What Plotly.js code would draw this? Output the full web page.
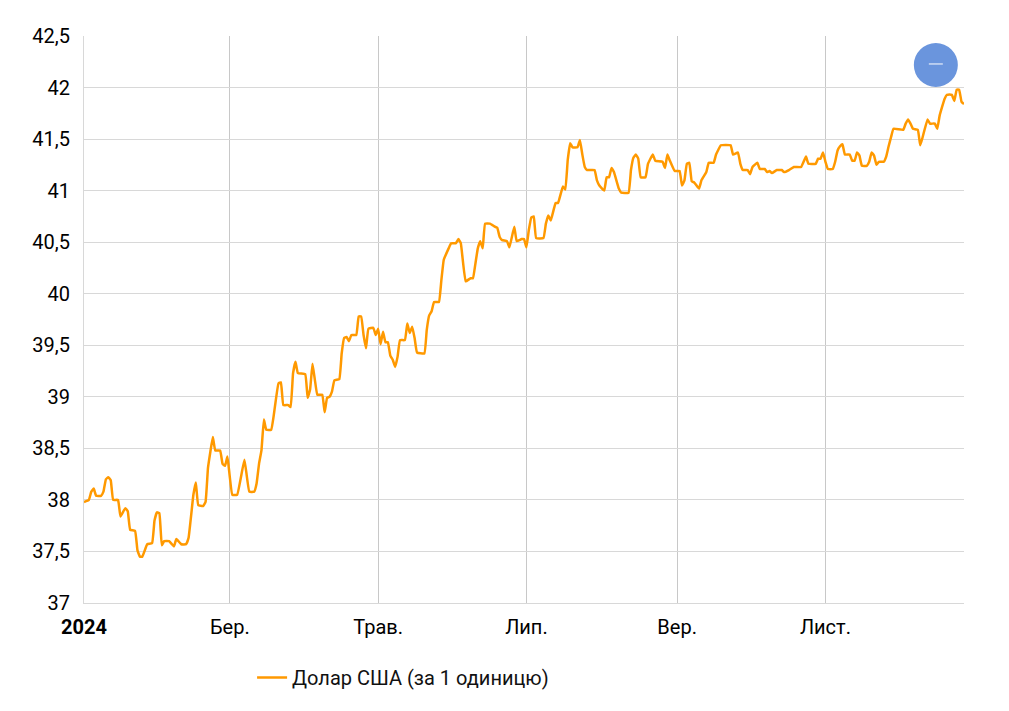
<!DOCTYPE html>
<html>
<head>
<meta charset="utf-8">
<script src="https://cdn.plot.ly/plotly-3.0.1.min.js"></script>
<style>
  html, body { margin: 0; padding: 0; background: #fff; }
  #graph_panel { width: 1009px; height: 711px; }
</style>
</head>
<body>
<div id="graph_panel"></div>
<script>
// days counted from 1 Jan 2024
var days = [0,2,3,4,5,7,8,9,10,11,12,14,15,17,18,19,21,22,23,24,26,28,29,30,31,32,33,35,37,38,40,42,43,45,46,47,49,50,51,52,53,54,56,57,58,59,
  61,63,66,68,70,71,72,73,74,75,77,78,80,81,82,84,85,86,87,88,91,92,93,94,95,96,98,99,100,101,102,103,105,106,107,108,109,110,112,113,114,115,116,117,119,120,
  121,122,123,124,125,126,127,128,129,130,132,133,134,135,136,137,140,141,142,143,144,146,147,148,150,151,153,154,155,157,159,160,161,162,163,164,165,167,169,170,171,172,174,175,177,178,180,
  181,182,183,184,185,186,189,190,191,192,194,195,197,198,199,200,201,203,204,205,206,207,210,211,212,214,215,216,217,218,220,221,224,225,226,227,228,229,231,232,234,235,238,239,240,241,
  243,245,246,247,248,249,250,251,253,254,256,257,259,260,262,266,267,269,270,271,273,274,275,277,278,280,281,282,283,285,287,288,290,292,295,297,298,301,302,303,
  304,305,306,308,309,310,311,312,313,315,316,317,318,319,320,322,323,324,325,326,327,329,330,331,332,333,337,338,339,340,341,343,344,345,347,348,350,351,352,354,355,357,358,359,360,361,362];
var usd = [37.98,38,38.08,38.11,38.04,38.04,38.08,38.2,38.22,38.19,38,38,37.84,37.92,37.89,37.71,37.7,37.51,37.45,37.45,37.57,37.58,37.8,37.88,37.87,37.56,37.6,37.6,37.55,37.62,37.57,37.57,37.63,38.05,38.17,37.95,37.94,37.98,38.31,38.47,38.61,38.48,38.48,38.35,38.33,38.42,
  38.05,38.05,38.39,38.08,38.08,38.16,38.35,38.48,38.78,38.68,38.68,38.81,39.13,39.14,38.92,38.92,38.9,39.23,39.34,39.23,39.22,38.99,39.07,39.32,39.16,39.02,39.02,38.85,38.99,39,39.05,39.16,39.17,39.42,39.57,39.58,39.54,39.6,39.6,39.78,39.78,39.6,39.47,39.66,39.67,39.6,
  39.66,39.51,39.63,39.53,39.53,39.4,39.36,39.29,39.39,39.55,39.55,39.71,39.62,39.68,39.57,39.43,39.42,39.65,39.79,39.83,39.92,39.92,40.13,40.33,40.44,40.49,40.49,40.53,40.49,40.12,40.15,40.15,40.29,40.44,40.51,40.44,40.68,40.68,40.65,40.64,40.55,40.52,40.51,40.45,40.65,40.51,40.53,
  40.53,40.45,40.62,40.74,40.75,40.54,40.54,40.68,40.76,40.71,40.88,40.88,41.04,41.01,41.3,41.46,41.42,41.42,41.49,41.35,41.23,41.2,41.2,41.1,41.05,41,41.13,41.13,41.22,41.18,41.02,40.98,40.98,41.2,41.32,41.35,41.31,41.13,41.13,41.26,41.35,41.29,41.28,41.22,41.35,41.29,
  41.19,41.19,41.05,41.1,41.26,41.27,41.09,41.08,41.02,41.1,41.18,41.27,41.27,41.35,41.44,41.44,41.35,41.37,41.26,41.2,41.2,41.16,41.23,41.27,41.21,41.21,41.18,41.19,41.17,41.2,41.2,41.18,41.2,41.23,41.23,41.33,41.26,41.26,41.31,41.31,
  41.37,41.28,41.21,41.21,41.28,41.39,41.43,41.45,41.35,41.35,41.29,41.29,41.37,41.34,41.24,41.24,41.28,41.37,41.34,41.25,41.28,41.28,41.33,41.43,41.52,41.6,41.59,41.65,41.69,41.65,41.6,41.59,41.44,41.52,41.69,41.65,41.65,41.6,41.73,41.89,41.93,41.93,41.87,41.98,41.98,41.86,41.84];
var tick_dates = ['2024-01-01','2024-03-01','2024-05-01','2024-07-01','2024-09-01','2024-11-01'];
var tick_labels = ['<b>2024</b>','Бер.','Трав.','Лип.','Вер.','Лист.'];
var series_name = 'Долар США (за 1 одиницю)';

var dates = days.map(function(d){
  return new Date(Date.UTC(2024, 0, 1 + d)).toISOString().slice(0, 10);
});

var trace = {
  x: dates, y: usd, mode: 'lines', name: series_name,
  line: { color: '#ff9900', width: 2.5, shape: 'spline', smoothing: 0.3 }
};

var layout = {
  width: 1009, height: 711,
  margin: { l: 84, r: 45, t: 36, b: 108, pad: 0 },
  separators: ', ',
  font: { family: 'Roboto, sans-serif', size: 20, color: '#000' },
  paper_bgcolor: '#fff', plot_bgcolor: '#fff',
  showlegend: true,
  legend: { orientation: 'h', x: 0.191, xanchor: 'left', y: -0.097, yanchor: 'top', itemwidth: 30, font: { size: 20, color: '#111' } },
  xaxis: {
    type: 'date', range: ['2024-01-01', '2024-12-28'],
    tickvals: tick_dates, ticktext: tick_labels, tickangle: 0,
    ticks: 'outside', ticklen: 6, tickcolor: 'rgba(0,0,0,0)',
    gridcolor: '#c8c8c8', gridwidth: 1, showline: true, linecolor: '#d8d8d8', linewidth: 1, zeroline: false
  },
  yaxis: {
    range: [37, 42.5], dtick: 0.5, tick0: 37,
    ticks: 'outside', ticklen: 9, tickcolor: 'rgba(0,0,0,0)',
    gridcolor: '#d8d8d8', gridwidth: 1, showline: true, linecolor: '#d8d8d8', linewidth: 1, zeroline: false
  },
  shapes: [
    { type: 'circle', xref: 'paper', yref: 'paper', xsizemode: 'pixel', ysizemode: 'pixel',
      xanchor: 0.968, yanchor: 0.9489, x0: -22, x1: 22, y0: -22, y1: 22,
      fillcolor: '#6a95dd', line: { width: 0 } },
    { type: 'line', xref: 'paper', yref: 'paper', xsizemode: 'pixel', ysizemode: 'pixel',
      xanchor: 0.968, yanchor: 0.9489, x0: -7, x1: 7, y0: 1, y1: 1,
      line: { color: '#fff', width: 1 } }
  ]
};

Plotly.newPlot('graph_panel', [trace], layout, { staticPlot: true });
</script>
</body>
</html>
